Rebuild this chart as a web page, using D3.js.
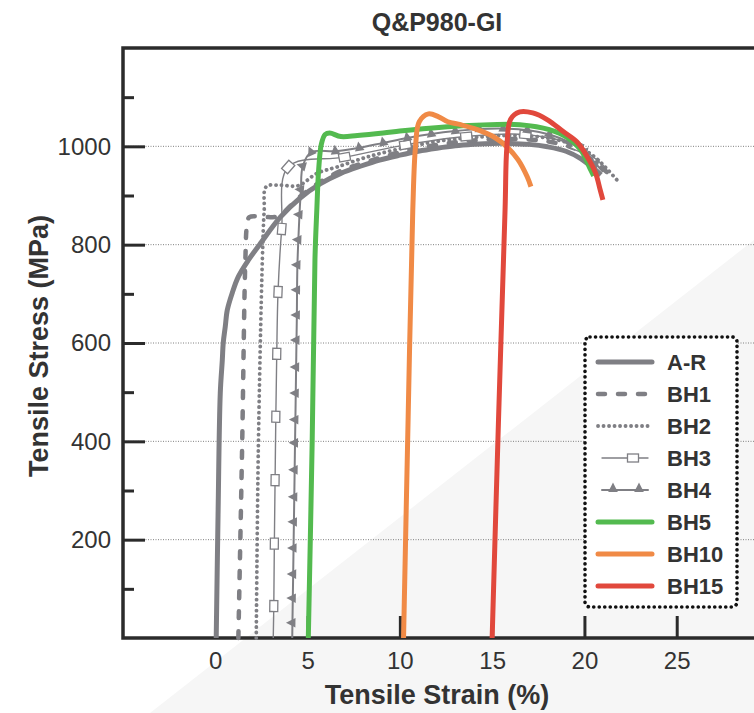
<!DOCTYPE html>
<html>
<head>
<meta charset="utf-8">
<title>Q&amp;P980-GI</title>
<script src="https://cdn.jsdelivr.net/npm/d3@7"></script>
<style>
body { margin: 0; background: #fff; }
svg { display: block; font-family: "Liberation Sans", Arial, sans-serif; }
</style>
</head>
<body>
<svg id="chart" width="754" height="713"></svg>
<script>
// values, [strain %, stress MPa]
var seriesNames = ["A-R", "BH1", "BH2", "BH3", "BH4", "BH5", "BH10", "BH15"];

var arData = [[0.05,0],[0.15,250],[0.27,498],[0.38,565],[0.43,600],[0.54,633],[0.65,667],[0.92,702],[1.25,735],
  [1.8,769],[2.4,800],[3.5,855],[4.6,895],[5.7,924],[6.8,945],[7.9,960],[8.9,972],[10,982],[11,990],[12,996],
  [13,1001],[14,1004],[15,1006],[16,1006],[17,1004],[18,999],[19,990],[19.8,975],[20.4,958],[20.9,942]];

var bh1Data = [[1.25,0],[1.45,380],[1.63,770],[1.72,840],[1.85,856],[2.8,856],[3.4,858],[4.6,898],[5.7,928],
  [6.8,950],[8,966],[10,988],[12,1003],[14,1012],[16,1015],[18,1010],[19.5,995],[20.5,970],[21.3,945]];

var bh2Data = [[2.22,0],[2.33,380],[2.55,770],[2.65,870],[2.76,918],[3.5,921],[4.5,920],[5.5,945],[6.6,958],
  [8.2,978],[10,995],[12,1010],[14,1018],[16,1022],[18,1017],[19.5,1002],[20.5,980],[21.2,955],[21.8,930]];

var bh3Data = [[3.14,0],[3.17,65],[3.2,192],[3.24,321],[3.28,450],[3.33,578],[3.4,704],[3.6,832],[3.95,958],
  [7.0,978],[10.3,1003],[13.6,1020],[16.8,1024],[19.6,1000],[21.2,955]];

var bh4Data = [[4.17,0],[4.18,31],[4.2,81],[4.22,130],[4.24,183],[4.26,236],[4.28,287],[4.3,342],[4.32,397],
  [4.34,444],[4.36,498],[4.38,551],[4.4,606],[4.42,657],[4.43,708],[4.45,759],[4.5,810],[4.56,861],[4.64,912],
  [4.74,960],[5.2,988],[6.5,990],[7.8,997],[9.1,1007],[10.4,1017],[11.7,1025],[13,1031],[14.3,1035],
  [15.6,1036],[16.9,1033],[18.1,1024],[19.2,1008],[20,988],[20.6,965],[21,948]];

var bh5Data = [[5.04,0],[5.25,400],[5.4,770],[5.5,870],[5.6,952],[5.75,1005],[5.95,1024],[6.2,1027],[6.8,1020],
  [7.7,1022],[9.1,1027],[10,1031],[11.6,1037],[13.4,1042],[14.9,1044],[16.5,1044],[18.1,1034],[19.1,1017],
  [19.8,993],[20.3,955],[20.5,940]];

var bh10Data = [[10.2,0],[10.45,450],[10.7,870],[10.85,1000],[11.05,1050],[11.55,1066],[12.1,1060],[12.6,1050],
  [13.3,1044],[14.2,1034],[15.1,1019],[15.8,999],[16.4,973],[16.9,938],[17.1,918]];

var bh15Data = [[15.0,0],[15.35,450],[15.7,871],[15.8,1000],[16.0,1055],[16.5,1070],[17.2,1068],[18.0,1054],
  [18.85,1030],[19.6,1009],[20.15,979],[20.6,946],[20.85,912],[21.0,891]];

var xTicks = [0, 5, 10, 15, 20, 25];
var yTicks = [200, 400, 600, 800, 1000];
var yMinorTicks = [100, 300, 500, 700, 900, 1100];

var gray = "#7f7f84";
var styles = {
  "A-R":  {color: gray, width: 5},
  "BH1":  {color: gray, width: 4.5, dash: "7,13", cap: "round"},
  "BH2":  {color: gray, width: 3.8, dash: "0.1,5.4", cap: "round"},
  "BH3":  {color: gray, width: 1.4, marker: "square"},
  "BH4":  {color: gray, width: 2, marker: "triangle"},
  "BH5":  {color: "#53ba4f", width: 5},
  "BH10": {color: "#f08a46", width: 5},
  "BH15": {color: "#e1483c", width: 5}
};
var allData = [arData, bh1Data, bh2Data, bh3Data, bh4Data, bh5Data, bh10Data, bh15Data];

var svg = d3.select("#chart");

var x = d3.scaleLinear().domain([-5, 30]).range([123, 769]);
var y = d3.scaleLinear().domain([0, 1200]).range([638, 48]);

// faint shading of the page in the lower right
svg.append("polygon")
  .attr("points", "150,713 754,713 754,240")
  .attr("fill", "#f6f6f6");

// dotted grid lines
svg.append("g").selectAll("line")
  .data(yTicks)
  .join("line")
  .attr("x1", x(-5)).attr("x2", 754)
  .attr("y1", function(d) { return y(d); })
  .attr("y2", function(d) { return y(d); })
  .attr("stroke", "#808080")
  .attr("stroke-width", 1)
  .attr("stroke-dasharray", "1,1.5");

// axes, ticks pointing inward
var yAxis = svg.append("g")
  .attr("transform", "translate(" + x(-5) + ",0)")
  .call(d3.axisLeft(y).tickValues(yTicks).tickSize(-22).tickPadding(12).tickFormat(d3.format("d")));
var yMinor = svg.append("g")
  .attr("transform", "translate(" + x(-5) + ",0)")
  .call(d3.axisLeft(y).tickValues(yMinorTicks).tickSize(-11).tickFormat(""));
var xAxis = svg.append("g")
  .attr("transform", "translate(0," + y(0) + ")")
  .call(d3.axisBottom(x).tickValues(xTicks).tickSize(-22).tickPadding(14).tickFormat(d3.format("d")));

[yAxis, yMinor, xAxis].forEach(function(g) {
  g.select(".domain").remove();
  g.selectAll(".tick line").attr("stroke", "#2b2b2b").attr("stroke-width", 3);
  g.selectAll(".tick text").attr("fill", "#333").attr("font-size", 24);
});
xAxis.selectAll(".tick text").attr("dy", "0.71em");

// frame
svg.append("rect")
  .attr("x", x(-5)).attr("y", y(1200))
  .attr("width", x(30) - x(-5)).attr("height", y(0) - y(1200))
  .attr("fill", "none")
  .attr("stroke", "#2b2b2b")
  .attr("stroke-width", 3.5);

var line = d3.line()
  .x(function(d) { return x(d[0]); })
  .y(function(d) { return y(d[1]); })
  .curve(d3.curveCatmullRom.alpha(0.5));

var curves = svg.append("g");
allData.forEach(function(data, i) {
  var st = styles[seriesNames[i]];
  curves.append("path")
    .datum(data)
    .attr("d", line)
    .attr("fill", "none")
    .attr("stroke", st.color)
    .attr("stroke-width", st.width)
    .attr("stroke-linecap", st.cap || "butt")
    .attr("stroke-linejoin", "round")
    .attr("stroke-dasharray", st.dash || null);

  if (st.marker) {
    // markers turn with the direction of the curve
    var marks = data.slice(1, -1).map(function(d, k) {
      var p = data[k], n = data[k + 2];
      var a = Math.atan2(y(n[1]) - y(p[1]), x(n[0]) - x(p[0])) * 180 / Math.PI;
      return {cx: x(d[0]), cy: y(d[1]), angle: a};
    });
    var mg = curves.append("g").selectAll("g")
      .data(marks)
      .join("g")
      .attr("transform", function(m) { return "translate(" + m.cx + "," + m.cy + ") rotate(" + m.angle + ")"; });
    drawMarker(mg, st);
  }
});

function drawMarker(sel, st) {
  if (st.marker == "square") {
    sel.append("rect")
      .attr("x", -5.5).attr("y", -4).attr("width", 11).attr("height", 8)
      .attr("fill", "#fff").attr("stroke", st.color).attr("stroke-width", 1.3);
  } else {
    sel.append("path")
      .attr("d", "M0,-6.5L4.8,3L-4.8,3Z")
      .attr("fill", st.color);
  }
}

// legend
var legend = svg.append("g");
legend.append("rect")
  .attr("x", 585).attr("y", 337).attr("width", 152).attr("height", 270)
  .attr("rx", 5)
  .attr("fill", "#fff")
  .attr("stroke", "#111")
  .attr("stroke-width", 3.6)
  .attr("stroke-linecap", "round")
  .attr("stroke-dasharray", "0.1,5.4");

seriesNames.forEach(function(name, i) {
  var st = styles[name];
  var ly = 362 + i * 32;
  var x1 = st.marker ? 602 : 598, x2 = st.marker ? 648 : 652;
  legend.append("line")
    .attr("x1", x1).attr("x2", x2).attr("y1", ly).attr("y2", ly)
    .attr("stroke", st.color)
    .attr("stroke-width", st.width)
    .attr("stroke-linecap", st.cap || "round")
    .attr("stroke-dasharray", st.dash || null);
  if (st.marker == "square") {
    drawMarker(legend.append("g").attr("transform", "translate(633," + ly + ")"), st);
  } else if (st.marker == "triangle") {
    drawMarker(legend.append("g").attr("transform", "translate(613," + (ly - 1) + ")"), st);
    drawMarker(legend.append("g").attr("transform", "translate(639," + (ly - 1) + ")"), st);
  }
  legend.append("text")
    .attr("x", 667).attr("y", ly)
    .attr("dy", "0.36em")
    .attr("font-size", 22)
    .attr("font-weight", "bold")
    .attr("fill", "#333")
    .text(name);
});

// titles
svg.append("text")
  .attr("x", 437).attr("y", 31)
  .attr("text-anchor", "middle")
  .attr("font-size", 25)
  .attr("font-weight", "bold")
  .attr("fill", "#333")
  .text("Q&P980-GI");

svg.append("text")
  .attr("x", 437).attr("y", 704)
  .attr("text-anchor", "middle")
  .attr("font-size", 27)
  .attr("font-weight", "bold")
  .attr("fill", "#333")
  .text("Tensile Strain (%)");

svg.append("text")
  .attr("transform", "translate(38,346) rotate(-90)")
  .attr("text-anchor", "middle")
  .attr("dy", "0.36em")
  .attr("font-size", 27)
  .attr("font-weight", "bold")
  .attr("fill", "#333")
  .text("Tensile Stress (MPa)");
</script>
</body>
</html>
